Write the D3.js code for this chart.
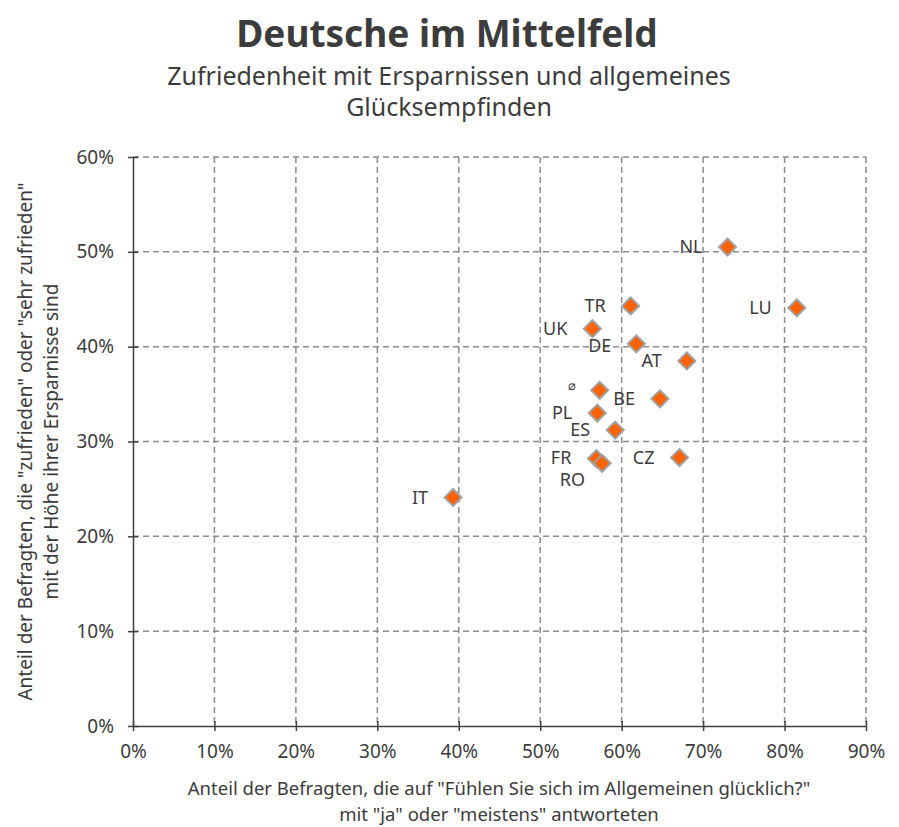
<!DOCTYPE html>
<html>
<head>
<meta charset="utf-8">
<script src="https://cdn.jsdelivr.net/npm/d3@7"></script>
<style>
  body { margin: 0; background: #fff; }
  text { font-family: "Noto Sans", "Open Sans", sans-serif; fill: #3c3c3c; }
</style>
</head>
<body>
<div class="canvas"></div>
<script>
// data
const countries = ['NL', 'LU', 'TR', 'UK', 'DE', 'AT', '\u2300', 'BE', 'PL', 'ES', 'FR', 'RO', 'CZ', 'IT'];
const happy   = [73.0, 81.5, 61.1, 56.4, 61.8, 68.0, 57.3, 64.7, 57.0, 59.2, 56.9, 57.6, 67.1, 39.3]; // % "glücklich"
const savings = [50.5, 44.1, 44.3, 41.9, 40.3, 38.5, 35.4, 34.5, 33.0, 31.2, 28.2, 27.7, 28.3, 24.1]; // % "zufrieden"
const xTicks = [0, 10, 20, 30, 40, 50, 60, 70, 80, 90];
const yTicks = [0, 10, 20, 30, 40, 50, 60];

// label nudges (style only)
const nudge = { 'RO': { dx: 8, dy: 16 }, 'FR': { dx: 0, dy: -1 }, 'DE': { dx: 0, dy: 2 }, '\u2300': { dx: 1, dy: -5 } };

const dims = { width: 899, height: 827 };
const plot = { left: 133, right: 866, top: 157, bottom: 726 };

const svg = d3.select('.canvas')
  .append('svg')
  .attr('width', dims.width)
  .attr('height', dims.height);

const x = d3.scaleLinear().domain([0, 90]).range([plot.left, plot.right]);
const y = d3.scaleLinear().domain([0, 60]).range([plot.bottom, plot.top]);

//------------------------ titles
svg.append('text')
  .attr('x', 447).attr('y', 47)
  .attr('text-anchor', 'middle')
  .style('font-size', '37px').style('font-weight', 'bold')
  .attr('fill', '#333')
  .text('Deutsche im Mittelfeld');

svg.append('text')
  .attr('x', 449).attr('y', 85)
  .attr('text-anchor', 'middle')
  .style('font-size', '25px')
  .text('Zufriedenheit mit Ersparnissen und allgemeines');

svg.append('text')
  .attr('x', 449).attr('y', 116)
  .attr('text-anchor', 'middle')
  .style('font-size', '25px')
  .text('Glücksempfinden');

//------------------------ grid
const grid = svg.append('g');
grid.selectAll('.vgrid')
  .data(xTicks.filter(d => d > 0))
  .enter().append('line')
  .attr('x1', d => x(d)).attr('x2', d => x(d))
  .attr('y1', plot.top).attr('y2', plot.bottom)
  .attr('stroke', '#8c8c8c').attr('stroke-width', 1.5)
  .attr('stroke-dasharray', '6,4');

grid.selectAll('.hgrid')
  .data(yTicks.filter(d => d > 0))
  .enter().append('line')
  .attr('x1', plot.left).attr('x2', plot.right)
  .attr('y1', d => y(d)).attr('y2', d => y(d))
  .attr('stroke', '#8c8c8c').attr('stroke-width', 1.5)
  .attr('stroke-dasharray', '6,4');

//------------------------ axes
const xAxis = svg.append('g')
  .attr('transform', `translate(0, ${plot.bottom})`)
  .call(d3.axisBottom(x).tickValues(xTicks).tickFormat(d => d + '%').tickSizeInner(5).tickSizeOuter(0).tickPadding(14));

const yAxis = svg.append('g')
  .attr('transform', `translate(${plot.left}, 0)`)
  .call(d3.axisLeft(y).tickValues(yTicks).tickFormat(d => d + '%').tickSizeInner(5).tickSizeOuter(0).tickPadding(14));

[xAxis, yAxis].forEach(ax => {
  ax.select('.domain').attr('stroke', '#404040').attr('stroke-width', 1.5);
  ax.selectAll('.tick line').attr('stroke', '#404040').attr('stroke-width', 1.5);
  ax.selectAll('.tick text').attr('fill', '#3c3c3c').style('font-size', '19px')
    .style('font-family', '"Noto Sans", sans-serif');
});
// ticks cross the axis line
xAxis.selectAll('.tick line').attr('y1', -5);
yAxis.selectAll('.tick line').attr('x1', 5);

//------------------------ axis titles
svg.append('text')
  .attr('x', 499).attr('y', 795)
  .attr('text-anchor', 'middle')
  .style('font-size', '18.5px')
  .text('Anteil der Befragten, die auf "Fühlen Sie sich im Allgemeinen glücklich?"');
svg.append('text')
  .attr('x', 499).attr('y', 821)
  .attr('text-anchor', 'middle')
  .style('font-size', '18.5px')
  .text('mit "ja" oder "meistens" antworteten');

const yTitle = svg.append('g')
  .attr('transform', `translate(0, ${(plot.top + plot.bottom) / 2}) rotate(-90)`);
yTitle.append('text')
  .attr('x', 0).attr('y', 32)
  .attr('text-anchor', 'middle')
  .style('font-size', '19px')
  .text('Anteil der Befragten, die "zufrieden" oder "sehr zufrieden"');
yTitle.append('text')
  .attr('x', 0).attr('y', 58)
  .attr('text-anchor', 'middle')
  .style('font-size', '19px')
  .text('mit der Höhe ihrer Ersparnisse sind');

//------------------------ points
const data = countries.map((c, i) => ({ name: c, x: happy[i], y: savings[i] }));

const pts = svg.append('g');
pts.selectAll('rect')
  .data(data)
  .enter().append('rect')
  .attr('x', -6).attr('y', -6)
  .attr('width', 12).attr('height', 12)
  .attr('transform', d => `translate(${x(d.x)}, ${y(d.y)}) rotate(45)`)
  .attr('fill', '#ff6200')
  .attr('stroke', '#a0a0a0')
  .attr('stroke-width', 2);

pts.selectAll('text')
  .data(data)
  .enter().append('text')
  .attr('x', d => x(d.x) - 25 + (nudge[d.name] ? nudge[d.name].dx : 0))
  .attr('y', d => y(d.y) + (nudge[d.name] ? nudge[d.name].dy : 0))
  .attr('dy', '0.35em')
  .attr('text-anchor', 'end')
  .style('font-size', d => d.name === '\u2300' ? '13px' : '18px')
  .attr('fill', '#111')
  .text(d => d.name);
</script>
</body>
</html>
